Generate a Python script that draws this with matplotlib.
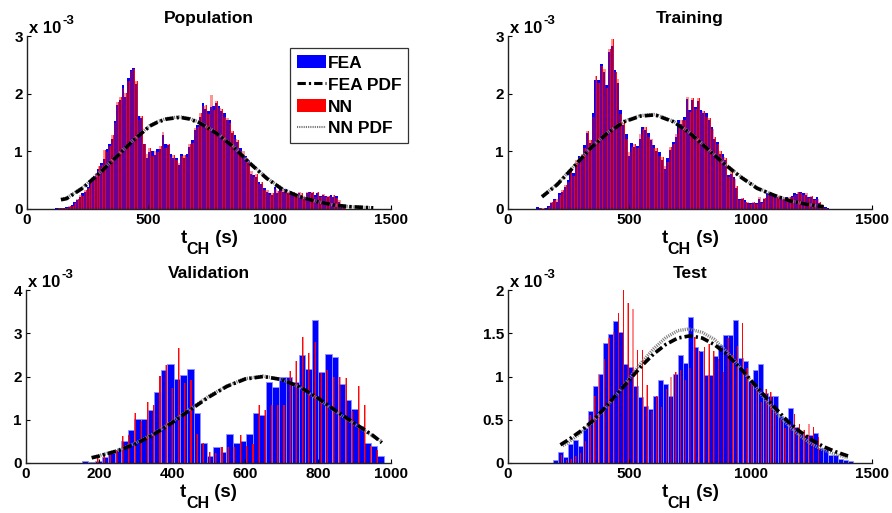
import numpy as np
import matplotlib
matplotlib.use('Agg')
import matplotlib.pyplot as plt
from matplotlib.patches import Patch
from matplotlib.lines import Line2D
from matplotlib.ticker import FuncFormatter

plt.rcParams['font.family'] = ['Liberation Sans', 'DejaVu Sans']
plt.rcParams['font.weight'] = 'bold'
plt.rcParams['lines.scale_dashes'] = False

# ---------------- data (densities in units of 1e-3) ----------------
# Population
pop_fea = [0.01, 0.02, 0.01, 0.02, 0.03, 0.04, 0.07,
           0.13, 0.15, 0.20, 0.27, 0.30, 0.39, 0.45, 0.54, 0.60, 0.70, 0.79, 0.87, 1.04, 1.12, 1.22, 1.53,
           1.81, 1.89, 2.15, 1.95, 2.28, 2.41, 2.45, 2.16, 1.62, 1.57, 1.12, 0.88, 0.99, 1.00, 0.94, 1.04,
           1.04, 1.28, 1.12, 1.11, 0.95, 0.89, 0.89, 0.76, 0.96, 0.88, 0.96, 1.08, 1.20, 1.37, 1.46, 1.60,
           1.83, 1.74, 1.70, 1.77, 1.79,
           1.84, 1.79, 1.70, 1.66, 1.54, 1.55, 1.31, 1.28, 1.17, 1.05, 0.96, 0.92, 0.85, 0.61, 0.59, 0.56,
           0.47, 0.44, 0.36, 0.30, 0.27, 0.24, 0.39, 0.28, 0.35, 0.29, 0.34, 0.28, 0.32, 0.27, 0.24, 0.27,
           0.24, 0.21, 0.27, 0.30, 0.27, 0.24, 0.27, 0.22, 0.24, 0.22, 0.21, 0.24, 0.21, 0.22, 0.13, 0.07, 0.03]
pop_nn = [0.00, 0.01, 0.02, 0.01, 0.02, 0.05, 0.06,
          0.10, 0.17, 0.24, 0.22, 0.33, 0.36, 0.48, 0.50, 0.62, 0.74, 0.76, 1.02, 0.98, 1.10, 1.28, 1.50,
          1.86, 1.95, 2.10, 2.02, 2.22, 2.40, 2.43, 2.22, 1.55, 1.62, 1.13, 0.95, 1.06, 0.92, 1.00, 0.98,
          1.10, 1.33, 1.05, 1.13, 0.90, 0.93, 0.85, 0.80, 0.92, 0.93, 0.90, 1.12, 1.15, 1.40, 1.42, 1.66,
          1.78, 1.80, 1.65, 1.98, 1.72,
          1.88, 1.75, 1.74, 1.60, 1.58, 1.50, 1.36, 1.22, 1.20, 1.00, 1.00, 0.88, 0.82, 0.66, 0.55, 0.60,
          0.44, 0.47, 0.33, 0.33, 0.25, 0.27, 0.34, 0.32, 0.31, 0.33, 0.30, 0.30, 0.29, 0.30, 0.22, 0.29,
          0.27, 0.20, 0.30, 0.27, 0.29, 0.21, 0.29, 0.20, 0.26, 0.20, 0.23, 0.21, 0.24, 0.19, 0.15, 0.05, 0.02]
pop_pdf_x = [140, 163, 232, 301, 370, 438, 507, 540, 576, 630, 670, 713, 782, 850, 919, 988, 1056, 1125,
             1194, 1262, 1331, 1427]
pop_fea_pdf = [0.16, 0.18, 0.37, 0.63, 0.91, 1.19, 1.44, 1.51, 1.56, 1.59, 1.56, 1.49, 1.31, 1.08, 0.79,
               0.53, 0.33, 0.21, 0.13, 0.07, 0.04, 0.02]
pop_nn_pdf = [0.17, 0.19, 0.38, 0.64, 0.92, 1.20, 1.45, 1.52, 1.57, 1.60, 1.57, 1.50, 1.32, 1.09, 0.80,
              0.54, 0.34, 0.22, 0.13, 0.07, 0.04, 0.02]

# Training
train_fea = [0.03, 0.02, 0.00, 0.01,
             0.06, 0.10, 0.17, 0.13, 0.28, 0.30, 0.39, 0.50, 0.62, 0.62, 0.79, 0.92, 0.88, 1.11, 1.31, 1.14,
             1.67, 2.24, 2.24, 2.51, 2.37, 2.15, 2.73, 2.83, 2.41, 2.18, 1.72, 1.46, 1.30, 0.92, 1.14, 1.07,
             1.09, 1.22, 1.43, 1.37, 1.31, 1.19, 1.11, 1.01, 0.99, 0.85, 0.70, 0.88, 1.02, 1.17, 1.25, 1.54,
             1.48, 1.60, 1.90, 1.72,
             1.89, 1.77, 1.88, 1.72, 1.66, 1.66, 1.54, 1.42, 1.22, 1.17, 0.95, 0.95, 0.85, 0.59, 0.61, 0.56,
             0.36, 0.18, 0.17, 0.15, 0.10, 0.10, 0.11, 0.11, 0.18, 0.12, 0.17, 0.27, 0.24, 0.22, 0.21, 0.20,
             0.21, 0.18, 0.21, 0.18, 0.22, 0.28, 0.26, 0.30, 0.27, 0.24, 0.21, 0.21, 0.17, 0.21, 0.10, 0.05,
             0.03, 0.02]
train_nn = [0.00, 0.02, 0.01, 0.00,
            0.04, 0.12, 0.15, 0.18, 0.25, 0.33, 0.42, 0.47, 0.66, 0.58, 0.85, 0.88, 0.95, 1.05, 1.36, 1.20,
            1.60, 2.30, 2.18, 2.48, 2.42, 2.10, 2.78, 2.95, 2.38, 2.25, 1.65, 1.50, 1.22, 0.98, 1.08, 1.12,
            1.05, 1.30, 1.38, 1.42, 1.25, 1.22, 1.05, 1.06, 0.92, 0.90, 0.75, 0.82, 1.08, 1.12, 1.30, 1.48,
            1.55, 1.55, 1.95, 1.68,
            1.92, 1.73, 1.92, 1.66, 1.70, 1.60, 1.58, 1.38, 1.25, 1.12, 1.00, 0.90, 0.88, 0.55, 0.66, 0.52,
            0.40, 0.15, 0.19, 0.12, 0.12, 0.08, 0.13, 0.09, 0.20, 0.10, 0.19, 0.25, 0.22, 0.25, 0.19, 0.22,
            0.18, 0.20, 0.19, 0.21, 0.20, 0.25, 0.29, 0.27, 0.24, 0.27, 0.19, 0.23, 0.15, 0.18, 0.12, 0.04,
            0.02, 0.00]
train_pdf_x = [140, 202, 271, 339, 408, 477, 545, 600, 614, 683, 751, 820, 889, 957, 1026, 1095, 1163,
               1232, 1301]
train_fea_pdf = [0.21, 0.42, 0.73, 1.05, 1.31, 1.51, 1.61, 1.63, 1.62, 1.51, 1.31, 1.05, 0.79, 0.56,
                 0.36, 0.24, 0.14, 0.08, 0.04]
train_nn_pdf = [0.22, 0.43, 0.74, 1.06, 1.32, 1.52, 1.62, 1.64, 1.63, 1.52, 1.32, 1.06, 0.80, 0.57,
                0.37, 0.24, 0.14, 0.08, 0.04]

# Validation
val_fea = [0.05, 0.03, 0.05, 0.13, 0.24, 0.31, 0.51, 0.76, 1.01, 1.02, 1.22, 1.65, 2.15, 2.29, 1.94,
           2.03, 2.17, 1.16, 0.46, 0.16, 0.37, 0.25, 0.66, 0.47, 0.50, 0.68, 1.16, 1.10, 1.87, 1.76,
           2.00, 2.00, 1.87, 2.50, 2.17, 3.31, 2.10, 2.53, 2.44, 1.83, 1.46, 1.26, 0.86, 0.46, 0.39, 0.16]
val_nn = [0.15, 0.17, 0.20, 0.30, 0.62, 0.64, 1.15, 0.97, 1.41, 1.35, 2.02, 2.26, 1.74, 2.65, 1.85,
          1.93, 0.66, 0.46, 0.25, 0.23, 0.38, 0.38, 0.38, 0.64, 0.40, 0.45, 1.33, 1.22, 1.35, 1.33,
          1.35, 2.12, 2.36, 2.91, 2.54, 2.79, 2.08, 2.14, 1.98, 1.98, 1.96, 1.20, 1.77, 1.33, 0.40, 0.30]
val_pdf_x = [180, 200, 250, 300, 350, 400, 450, 500, 550, 600, 650, 700, 750, 800, 850, 900, 950, 975]
val_fea_pdf = [0.12, 0.16, 0.28, 0.44, 0.66, 0.93, 1.23, 1.52, 1.77, 1.94, 2.00, 1.93, 1.76, 1.50,
               1.20, 0.92, 0.64, 0.47]
val_nn_pdf = [0.13, 0.17, 0.29, 0.46, 0.68, 0.95, 1.25, 1.54, 1.78, 1.95, 2.01, 1.93, 1.75, 1.48,
              1.18, 0.90, 0.62, 0.50]

# Test
test_fea = [0.035, 0.13, 0.07, 0.22, 0.27, 0.20, 0.41, 0.60, 0.89, 1.03, 1.39, 1.49, 1.64, 1.51, 1.14,
            1.11, 0.89, 0.76, 0.66, 0.62, 0.78, 0.96, 0.91, 0.78, 1.03, 1.25, 1.16, 1.69, 1.34, 1.30,
            1.02, 1.02, 1.24, 1.36, 1.48, 1.48, 1.65, 1.21, 1.18, 0.95, 1.07, 1.14, 0.81, 0.77, 0.77,
            0.54, 0.52, 0.64, 0.42, 0.34, 0.32, 0.32, 0.35, 0.17, 0.16, 0.09, 0.09, 0.05, 0.04, 0.02]
test_nn = [0.09, 0.03, 0.05, 0.08, 0.11, 0.25, 0.55, 0.77, 1.02, 1.20, 1.44, 1.52, 1.73, 2.00, 1.85,
           1.78, 1.31, 1.31, 0.90, 0.60, 0.78, 0.65, 0.85, 1.00, 1.05, 1.08, 0.96, 1.10, 1.46, 1.30,
           1.34, 1.37, 1.30, 1.20, 1.05, 1.45, 1.25, 1.35, 1.62, 1.10, 0.95, 0.85, 0.70, 0.85, 0.82,
           0.66, 0.50, 0.40, 0.45, 0.57, 0.45, 0.38, 0.45, 0.42, 0.30]
test_fea_pdf_x = [216, 250, 300, 350, 400, 450, 500, 550, 600, 650, 700, 750, 800, 850, 900, 950, 1000,
                  1050, 1100, 1150, 1200, 1250, 1300, 1350, 1413]
test_fea_pdf = [0.21, 0.27, 0.37, 0.49, 0.64, 0.80, 0.96, 1.12, 1.26, 1.37, 1.445, 1.47, 1.445, 1.37,
                1.26, 1.12, 0.96, 0.80, 0.64, 0.49, 0.37, 0.27, 0.19, 0.13, 0.07]
test_nn_pdf_x = [225, 250, 300, 350, 400, 450, 500, 550, 600, 650, 700, 745, 800, 850, 900, 950, 1000,
                 1050, 1100, 1150, 1200, 1250, 1300, 1350, 1400]
test_nn_pdf = [0.20, 0.24, 0.35, 0.48, 0.63, 0.80, 0.98, 1.16, 1.32, 1.45, 1.53, 1.55, 1.51, 1.43, 1.29,
               1.13, 0.95, 0.77, 0.60, 0.45, 0.32, 0.22, 0.15, 0.10, 0.06]

titles = ['Population', 'Training', 'Validation', 'Test']
legend_labels = ['FEA', 'FEA PDF', 'NN', 'NN PDF']
xlabel_parts = ['t', 'CH', ' (s)']
yscale_parts = ['x 10', '-3']

BLUE = '#0000ff'
RED = '#ff0000'
FEA_DASH = (0, (6, 2.2, 1.6, 2.2))
NN_DOT = (0, (0.8, 0.8))
FW, FH = 892, 513


def centers(start, width, n):
    return start + width * np.arange(n)


def draw(ax, title, fea, fea_start, fea_w, nn, nn_start, nn_w,
         fx, fpdf, nx, npdf, xlim, xticks, ylim, yticks, dense=True):
    xc = centers(fea_start, fea_w, len(fea))
    nc = centers(nn_start, nn_w, len(nn))
    if dense:
        ax.bar(xc, fea, width=fea_w, color=BLUE, linewidth=0, zorder=1)
        # translucent NN bars blend into purple, with a thin solid red stripe
        ax.bar(nc, nn, width=nn_w, color=RED, alpha=0.42, linewidth=0, zorder=2)
        ax.bar(nc + nn_w * 0.3, nn, width=nn_w * 0.28, color=RED, alpha=0.9, linewidth=0, zorder=2)
    else:
        ax.bar(xc, fea, width=fea_w, color=BLUE, edgecolor='#9090ff', linewidth=0.6, zorder=1)
        ax.bar(nc, nn, width=nn_w * 0.32, color=RED, alpha=0.45, linewidth=0, zorder=2)
        ax.bar(nc, nn, width=nn_w * 0.18, color=RED, alpha=0.95, linewidth=0, zorder=2)
    ax.plot(nx, npdf, color='0.5', lw=2.4, linestyle=NN_DOT, zorder=3)
    ax.plot(fx, fpdf, color='black', lw=2.6, linestyle=FEA_DASH, zorder=4)

    ax.set_xlim(*xlim)
    ax.set_ylim(*ylim)
    ax.set_xticks(xticks)
    ax.set_yticks(yticks)
    ax.yaxis.set_major_formatter(FuncFormatter(lambda v, p: '%g' % v))
    ax.xaxis.set_major_formatter(FuncFormatter(lambda v, p: '%g' % v))
    for s in ['top', 'right']:
        ax.spines[s].set_visible(False)
    for s in ['left', 'bottom']:
        ax.spines[s].set_linewidth(1.0)
        ax.spines[s].set_color('#222222')
    ax.tick_params(direction='in', length=3, width=0.8, labelsize=11, pad=3)
    ax.set_title(title, fontsize=12.5, fontweight='bold', pad=9)
    ax.set_facecolor('white')


fig = plt.figure(figsize=(FW / 100, FH / 100), dpi=100)
W = 364 / FW
H = 173 / FH
ax1 = fig.add_axes([27 / FW, 1 - 209 / FH, W, H])
ax2 = fig.add_axes([508 / FW, 1 - 209 / FH, W, H])
ax3 = fig.add_axes([26 / FW, 1 - 463 / FH, 365 / FW, H])
ax4 = fig.add_axes([508 / FW, 1 - 463 / FH, W, H])
axes = [ax1, ax2, ax3, ax4]

draw(ax1, titles[0], pop_fea, 120, 11.0, pop_nn, 121, 11.0,
     pop_pdf_x, pop_fea_pdf, pop_pdf_x, pop_nn_pdf,
     (0, 1500), [0, 500, 1000, 1500], (0, 3), [0, 1, 2, 3])
draw(ax2, titles[1], train_fea, 122, 11.4, train_nn, 123, 11.4,
     train_pdf_x, train_fea_pdf, train_pdf_x, train_nn_pdf,
     (0, 1500), [0, 500, 1000, 1500], (0, 3), [0, 1, 2, 3])
draw(ax3, titles[2], val_fea, 162, 18.0, val_nn, 197, 17.0,
     val_pdf_x, val_fea_pdf, val_pdf_x, val_nn_pdf,
     (0, 1000), [0, 200, 400, 600, 800, 1000], (0, 4), [0, 1, 2, 3, 4], dense=False)
draw(ax4, titles[3], test_fea, 196, 20.6, test_nn, 221, 19.6,
     test_fea_pdf_x, test_fea_pdf, test_nn_pdf_x, test_nn_pdf,
     (0, 1500), [0, 500, 1000, 1500], (0, 2), [0, 0.5, 1, 1.5, 2], dense=False)

handles = [Patch(facecolor=BLUE, edgecolor='none'),
           Line2D([], [], color='black', lw=2.2, linestyle=FEA_DASH),
           Patch(facecolor=RED, edgecolor='none'),
           Line2D([], [], color='0.45', lw=1.5, linestyle=NN_DOT)]
leg = ax1.legend(handles, legend_labels, loc='upper left', bbox_to_anchor=(0.7225, 0.93),
                 fontsize=12.5, frameon=True, fancybox=False, shadow=False,
                 handlelength=1.65, handleheight=0.8, handletextpad=0.12, labelspacing=0.36,
                 borderpad=0.4, borderaxespad=0.0)
leg.get_frame().set_edgecolor('black')
leg.get_frame().set_linewidth(0.9)
for t in leg.get_texts():
    t.set_fontweight('bold')

# x labels "t_CH (s)" and "x 10^-3" built from pieces (MATLAB-like large subscript)
fig.canvas.draw()
renderer = fig.canvas.get_renderer()
for ax in axes:
    bb = ax.get_position()
    sizes = [13.5, 11.5, 13.5]
    drops = [0, 11, 0]
    texts = [fig.text(0, 0, s, fontsize=fs, fontweight='bold', ha='left', va='baseline')
             for s, fs in zip(xlabel_parts, sizes)]
    widths = [t.get_window_extent(renderer).width for t in texts]
    total = sum(widths)
    x = (bb.x0 + bb.x1) / 2 * FW - total / 2
    base = bb.y0 * FH - 34
    for t, w, d in zip(texts, widths, drops):
        t.set_position((x / FW, (base - d) / FH))
        x += w
    # y multiplier
    top = bb.y1 * FH
    t1 = fig.text((bb.x0 * FW + 2) / FW, (top + 3) / FH, yscale_parts[0], fontsize=12,
                  fontweight='bold', ha='left', va='baseline')
    w1 = t1.get_window_extent(renderer).width
    fig.text((bb.x0 * FW + 3 + w1) / FW, (top + 12) / FH, yscale_parts[1], fontsize=9.5,
             fontweight='bold', ha='left', va='baseline')

fig.savefig('out.png', dpi=100, facecolor='white')
